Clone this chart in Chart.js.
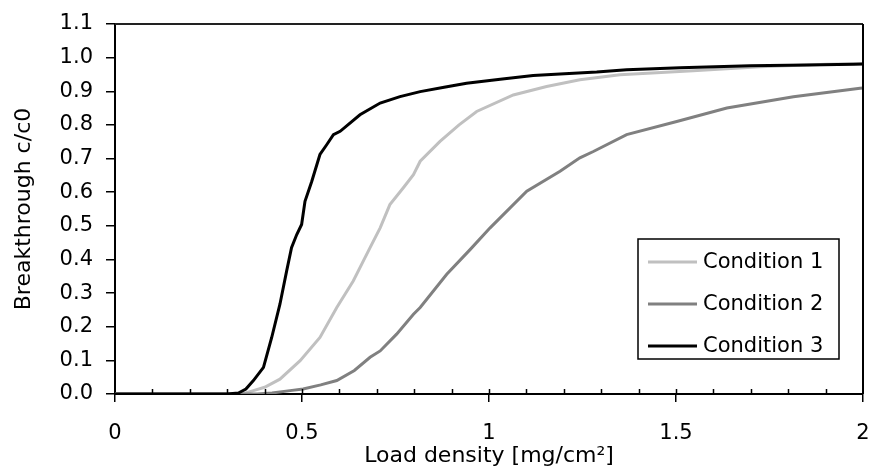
<!DOCTYPE html>
<html>
<head>
<meta charset="utf-8">
<style>
  html, body { margin: 0; padding: 0; background: #ffffff; }
  #wrap { width: 870px; height: 472px; }
</style>
<script src="https://cdn.jsdelivr.net/npm/chart.js@4/dist/chart.umd.min.js"></script>
</head>
<body>
<div id="wrap"><canvas id="c" width="870" height="472"></canvas></div>
<script>
// ---- Data ----
const seriesLabels = ["Condition 1", "Condition 2", "Condition 3"];

const cond1X = [0, 0.1, 0.2, 0.3, 0.34, 0.37, 0.40, 0.441, 0.495, 0.548, 0.593, 0.637, 0.682, 0.709, 0.735, 0.771, 0.798, 0.816, 0.869, 0.92, 0.967, 1.065, 1.154, 1.243, 1.350, 1.546, 1.725, 1.903, 2.0];
const cond1Y = [0, 0, 0, 0, 0, 0.01, 0.02, 0.044, 0.099, 0.168, 0.257, 0.336, 0.435, 0.494, 0.563, 0.613, 0.652, 0.692, 0.751, 0.80, 0.840, 0.889, 0.914, 0.934, 0.949, 0.961, 0.973, 0.980, 0.982];

const cond2X = [0, 0.1, 0.2, 0.3, 0.38, 0.42, 0.468, 0.503, 0.55, 0.593, 0.64, 0.682, 0.709, 0.753, 0.798, 0.816, 0.887, 0.95, 1.003, 1.101, 1.19, 1.243, 1.279, 1.368, 1.502, 1.636, 1.814, 1.992, 2.0];
const cond2Y = [0, 0, 0, 0, 0, 0.003, 0.01, 0.015, 0.027, 0.04, 0.07, 0.109, 0.128, 0.178, 0.237, 0.257, 0.356, 0.43, 0.494, 0.603, 0.662, 0.702, 0.721, 0.771, 0.810, 0.850, 0.884, 0.909, 0.91];

const cond3X = [0, 0.1, 0.2, 0.3, 0.33, 0.35, 0.37, 0.397, 0.419, 0.441, 0.459, 0.472, 0.486, 0.499, 0.508, 0.526, 0.548, 0.566, 0.584, 0.602, 0.655, 0.709, 0.762, 0.816, 0.88, 0.94, 1.03, 1.118, 1.19, 1.288, 1.368, 1.511, 1.698, 1.85, 1.974, 2.0];
const cond3Y = [0, 0, 0, 0, 0.003, 0.015, 0.04, 0.079, 0.168, 0.267, 0.366, 0.435, 0.474, 0.504, 0.573, 0.632, 0.712, 0.741, 0.771, 0.781, 0.830, 0.865, 0.884, 0.899, 0.912, 0.924, 0.936, 0.947, 0.951, 0.957, 0.964, 0.970, 0.976, 0.978, 0.980, 0.981];

const xTickValues = [0, 0.5, 1, 1.5, 2];
const yTickValues = [0, 0.1, 0.2, 0.3, 0.4, 0.5, 0.6, 0.7, 0.8, 0.9, 1.0, 1.1];
const xTitle = "Load density [mg/cm²]";
const yTitle = "Breakthrough c/c0";

// ---- Build ----
const toPts = (xs, ys) => xs.map((x, i) => ({ x: x, y: ys[i] }));
const colors = ["#c0c0c0", "#808080", "#000000"];
const FONT = "'DejaVu Sans', 'Liberation Sans', Arial, sans-serif";

const frameAndTicks = {
  id: 'frameAndTicks',
  afterDatasetsDraw(chart) {
    const ctx = chart.ctx;
    const ca = chart.chartArea;
    const xs = chart.scales.x;
    ctx.save();
    ctx.strokeStyle = '#222222';
    ctx.lineWidth = 2;
    ctx.beginPath();
    ctx.moveTo(ca.left, ca.top);
    ctx.lineTo(ca.right, ca.top);
    ctx.stroke();
    ctx.strokeStyle = '#000000';
    ctx.beginPath();
    ctx.moveTo(ca.right, ca.top);
    ctx.lineTo(ca.right, ca.bottom);
    ctx.stroke();
    ctx.lineWidth = 1.5;
    ctx.beginPath();
    for (let i = 1; i < 20; i++) {
      const px = Math.round(xs.getPixelForValue(i / 10)) + 0.5;
      ctx.moveTo(px, ca.bottom);
      ctx.lineTo(px, ca.bottom - 5);
    }
    ctx.stroke();
    ctx.restore();
  }
};

const boxedLegend = {
  id: 'boxedLegend',
  afterDraw(chart) {
    const ctx = chart.ctx;
    const ca = chart.chartArea;
    const bx = ca.right - 225, by = ca.bottom - 155, bw = 201, bh = 120;
    ctx.save();
    ctx.fillStyle = '#ffffff';
    ctx.fillRect(bx, by, bw, bh);
    ctx.strokeStyle = '#000000';
    ctx.lineWidth = 1.5;
    ctx.strokeRect(bx, by, bw, bh);
    ctx.font = "21px " + FONT;
    ctx.textBaseline = 'middle';
    ctx.textAlign = 'left';
    chart.data.datasets.forEach((ds, i) => {
      const yy = by + 23 + i * 42;
      ctx.strokeStyle = ds.borderColor;
      ctx.lineWidth = 3;
      ctx.beginPath();
      ctx.moveTo(bx + 10, yy);
      ctx.lineTo(bx + 59, yy);
      ctx.stroke();
      ctx.fillStyle = '#000000';
      ctx.fillText(ds.label, bx + 65, yy + 1);
    });
    ctx.restore();
  }
};

new Chart(document.getElementById('c'), {
  type: 'line',
  data: {
    datasets: [
      { label: seriesLabels[0], data: toPts(cond1X, cond1Y), borderColor: colors[0], order: 2 },
      { label: seriesLabels[1], data: toPts(cond2X, cond2Y), borderColor: colors[1], order: 1 },
      { label: seriesLabels[2], data: toPts(cond3X, cond3Y), borderColor: colors[2], order: 0 }
    ].map(d => Object.assign(d, { borderWidth: 3, pointRadius: 0, fill: false, tension: 0 }))
  },
  options: {
    responsive: false,
    animation: false,
    layout: { padding: { top: 24, right: 7, left: 0, bottom: 0 } },
    plugins: { legend: { display: false }, tooltip: { enabled: false } },
    scales: {
      x: {
        type: 'linear',
        min: 0, max: 2,
        afterBuildTicks: s => { s.ticks = xTickValues.map(v => ({ value: v })); },
        afterFit: s => { s.height = 78; s.paddingLeft = 0; s.paddingRight = 0; },
        ticks: {
          color: '#000000', padding: 19,
          font: { family: FONT, size: 21 },
          maxRotation: 0,
          callback: v => String(v)
        },
        grid: { drawOnChartArea: false, color: '#000000', tickLength: 8, lineWidth: 1.5 },
        border: { color: '#000000', width: 2 },
        title: { display: true, text: xTitle, color: '#000000', font: { family: FONT, size: 22 }, padding: { top: 0, bottom: 3 } }
      },
      y: {
        type: 'linear',
        min: 0, max: 1.1,
        afterBuildTicks: s => { s.ticks = yTickValues.map(v => ({ value: v })); },
        afterFit: s => { s.width = 115; s.paddingTop = 0; s.paddingBottom = 0; },
        ticks: {
          color: '#000000', padding: 13,
          font: { family: FONT, size: 21 },
          callback: v => Number(v).toFixed(1)
        },
        grid: { drawOnChartArea: false, color: '#000000', tickLength: 9, lineWidth: 1.5 },
        border: { color: '#000000', width: 2 },
        title: { display: true, text: yTitle, color: '#000000', font: { family: FONT, size: 22 }, padding: { top: 11, bottom: 0 } }
      }
    }
  },
  plugins: [frameAndTicks, boxedLegend]
});
</script>
</body>
</html>
